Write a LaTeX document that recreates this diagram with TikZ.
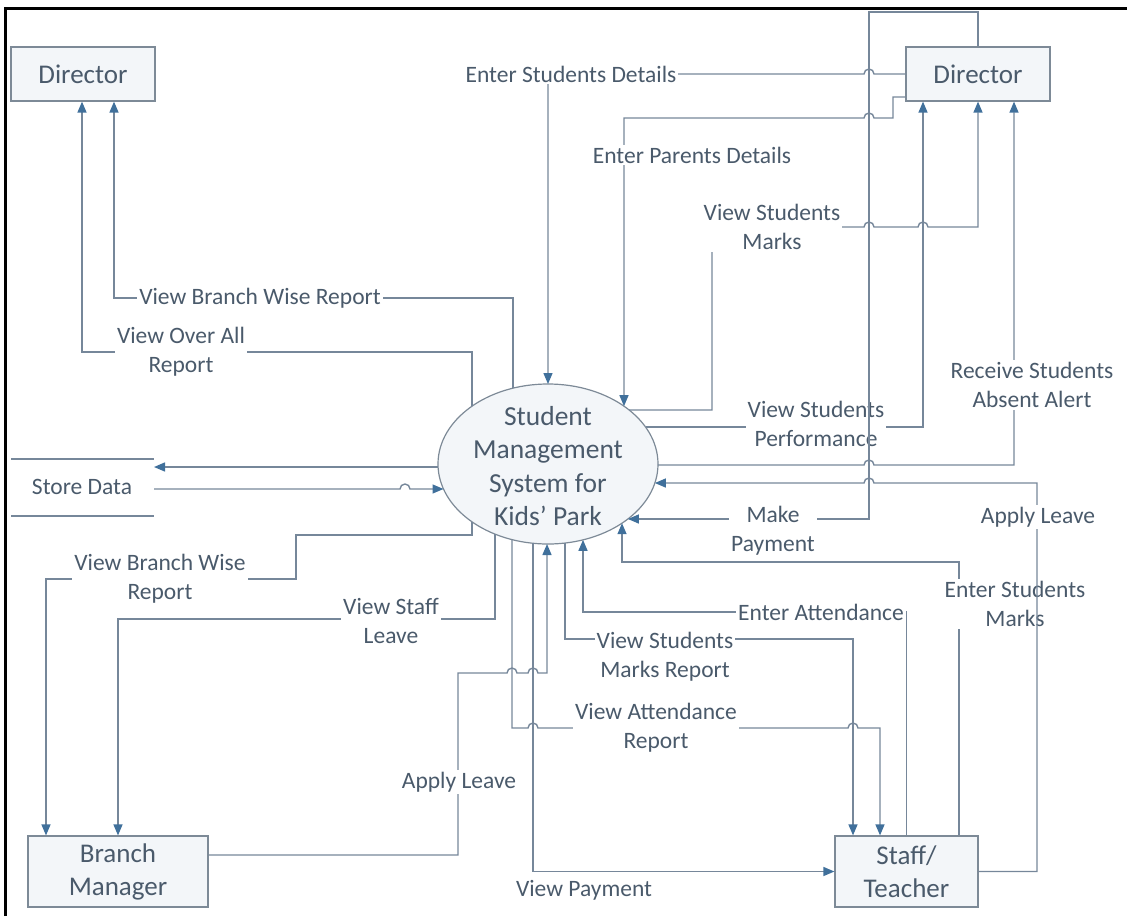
\documentclass[tikz,border=0pt]{standalone}
\usepackage{fontspec}
\setmainfont{Carlito}
\usetikzlibrary{arrows.meta,shapes.geometric,calc}
\definecolor{linec}{HTML}{76879A}
\definecolor{arrc}{HTML}{40709B}
\definecolor{txtc}{HTML}{4A5A6B}
\definecolor{boxb}{HTML}{7D8A97}
\definecolor{boxf}{HTML}{F3F6F9}
\begin{document}
\begin{tikzpicture}[x=1pt,y=-1pt,
  declare function={ex(\d)=110*sqrt(1-(\d/80)^2); ey(\d)=80*sqrt(1-(\d/110)^2);},
  flow/.style={draw=linec, line width=1.4pt},
  arr/.style={flow, -{Triangle[length=11pt,width=9pt,color=arrc]}},
  lbl/.style={fill=white, text=txtc, font=\fontsize{23.5}{29}\selectfont, align=center, inner sep=2pt},
  ent/.style={draw=boxb, line width=1.2pt, fill=boxf, text=txtc, font=\fontsize{27}{33}\selectfont, align=center, inner sep=0pt},
  hopR/.style={},
]
\useasboundingbox (0,0) rectangle (1127,916);
% frame
\draw[black, line width=3pt] (5,916) -- (5,8) -- (1127,8);

% entities
\node[ent, minimum width=144pt, minimum height=54pt] (dirL) at (83,74) {Director};
\node[ent, minimum width=144pt, minimum height=54pt] (dirR) at (978,74) {Director};
\node[ent, minimum width=180pt, minimum height=71pt] (bm) at (118,871.5) {Branch\\Manager};
\node[ent, minimum width=143pt, minimum height=71pt] (st) at (906.5,871.5) {Staff/\\Teacher};
\node[ellipse, draw=boxb, line width=1.2pt, fill=boxf, minimum width=220pt, minimum height=160pt, inner sep=0pt] (sys) at (548,464) {};
\node[text=txtc, font=\fontsize{27.5}{33.5}\selectfont, align=center] (systxt) at (548,466) {Student\\Management\\System for\\Kids’ Park};

% data store
\coordinate (sdA1) at (11,459); \coordinate (sdA2) at (154,459);
\coordinate (sdB1) at (11,516); \coordinate (sdB2) at (154,516);
\draw[flow] (sdA1) -- (sdA2);
\draw[flow] (sdB1) -- (sdB2);
\node[text=txtc, font=\fontsize{23.5}{29}\selectfont] (store) at (82,487) {Store Data};
\coordinate (sdOut) at (154,467);
\coordinate (sdIn) at (154,489);

% ellipse boundary points
\coordinate (eBWD) at ($(sys.center)+(-35,{-ey(-35)})$);
\coordinate (eOA)  at ($(sys.center)+(-76,{-ey(-76)})$);
\coordinate (eESD) at ($(sys.center)+(0,{-ey(0)})$);
\coordinate (eEPD) at ($(sys.center)+(76,{-ey(76)})$);
\coordinate (eVSM) at ($(sys.center)+({ex(-54)},-54)$);
\coordinate (eVSP) at ($(sys.center)+({ex(-37)},-37)$);
\coordinate (eRA)  at ($(sys.center)+({ex(1)},1)$);
\coordinate (eALs) at ($(sys.center)+({ex(19)},19)$);
\coordinate (eMP)  at ($(sys.center)+({ex(55)},55)$);
\coordinate (eESM) at ($(sys.center)+(74,{ey(74)})$);
\coordinate (eEA)  at ($(sys.center)+(35,{ey(35)})$);
\coordinate (eVSMR) at ($(sys.center)+(17,{ey(17)})$);
\coordinate (eALb) at ($(sys.center)+(-1,{ey(-1)})$);
\coordinate (eVP)  at ($(sys.center)+(-15,{ey(-15)})$);
\coordinate (eVAR) at ($(sys.center)+(-36,{ey(-36)})$);
\coordinate (eVSL) at ($(sys.center)+(-53,{ey(-53)})$);
\coordinate (eBWB) at ($(sys.center)+(-76,{ey(-76)})$);
\coordinate (eSO)  at ($(sys.center)+({-ex(3)},3)$);
\coordinate (eSI)  at ($(sys.center)+({-ex(25)},25)$);

% ---- connectors to left Director
\draw[arr] (eBWD) |- (114,298) -- (114,298 |- dirL.south);
\node[lbl] (lBWD) at (260,298) {View Branch Wise Report};
\draw[arr] (eOA) |- (82,352) -- (82,352 |- dirL.south);
\node[lbl] (lOA) at (181,352) {View Over All\\Report};

% ---- data store
\draw[arr] (eSO) -- (sdOut);
\draw[arr] (sdIn) -- (400,489) arc[start angle=180,end angle=0,radius=5pt] -- (eSI);

% ---- Branch manager
\draw[arr] (eBWB) -- (472,535) -- (296,535) -- (296,579) -- (46,579) -- (46,579 |- bm.north);
\node[lbl] (lBWB) at (160,579) {View Branch Wise\\Report};
\draw[arr] (eVSL) |- (118,619) -- (bm.north);
\node[lbl] (lVSL) at (391,621) {View Staff\\Leave};
\draw[arr] (bm.east |- 0,855) -- (458,855) -- (458,673) -- (507,673) arc[start angle=180,end angle=0,radius=5pt] -- (528,673) arc[start angle=180,end angle=0,radius=5pt] -- (547,673) -- (eALb);
\node[lbl] (lALb) at (459,782) {Apply Leave};

% ---- Staff / Teacher
\draw[arr] (eVAR) -- (512,728) -- (528,728) arc[start angle=180,end angle=0,radius=5pt] -- (848,728) arc[start angle=180,end angle=0,radius=5pt] -- (880,728) -- (880,728 |- st.north);
\node[lbl] (lVAR) at (656,728) {View Attendance\\Report};
\draw[arr] (eVSMR) |- (853,639) -- (853,639 |- st.north);
\node[lbl] (lVSMR) at (665,657) {View Students\\Marks Report};
\draw[arr] (st.north) |- (583,612) -- (eEA);
\node[lbl] (lEA) at (821,612) {Enter Attendance};
\draw[arr] (959,0 |- st.north) -- (959,562) -- (622,562) -- (eESM);
\node[lbl] (lESM) at (1015,604) {Enter Students\\Marks};
\draw[arr] (eVP) |- (st.west);
\node[lbl, fill=none] (lVP) at (584,890) {View Payment};
\draw[arr] (st.east) -| (1037,483) -- (874,483) arc[start angle=0,end angle=180,radius=5pt] -- (eALs);
\node[lbl] (lALs) at (1038,517) {Apply Leave};

% ---- right Director
\draw[arr] (dirR.west) -- (874,74) arc[start angle=0,end angle=180,radius=5pt] -- (548,74) -- (eESD);
\node[lbl] (lESD) at (571,74) {Enter Students Details};
\draw[arr] (dirR.west |- 0,97) -- (893,97) -- (893,118) -- (874,118) arc[start angle=0,end angle=180,radius=5pt] -- (624,118) -- (eEPD);
\node[lbl] (lEPD) at (692,155) {Enter Parents Details};
\draw[arr] (eVSM) -- (712,410) -- (712,227) -- (864,227) arc[start angle=180,end angle=0,radius=5pt] -- (918,227) arc[start angle=180,end angle=0,radius=5pt] -- (978,227) -- (dirR.south);
\node[lbl] (lVSM) at (772,227) {View Students\\Marks};
\draw[arr] (eRA) -- (864,465) arc[start angle=180,end angle=0,radius=5pt] -- (1014,465) -- (1014,465 |- dirR.south);
\node[lbl] (lRA) at (1032,385) {Receive Students\\Absent Alert};
\draw[arr] (eVSP) -- (923,427) -- (923,427 |- dirR.south);
\node[lbl] (lVSP) at (816,424) {View Students\\Performance};
\draw[arr] (dirR.north) |- (869,12) -- (869,519) -- (eMP);
\node[lbl] (lMP) at (773,531) {Make\\Payment};
\end{tikzpicture}
\end{document}
